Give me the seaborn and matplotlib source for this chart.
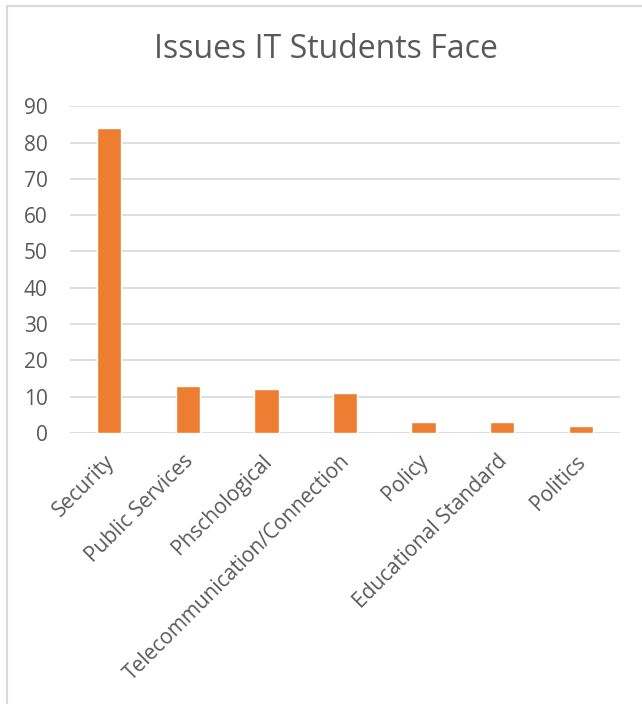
import matplotlib
matplotlib.use("Agg")
import matplotlib.pyplot as plt
import matplotlib.transforms as mtransforms
import seaborn as sns
import pandas as pd

categories = ["Security", "Public Services", "Phschological",
              "Telecommunication/Connection", "Policy",
              "Educational Standard", "Politics"]
counts = [84, 13, 12, 11, 3, 3, 2]
yticks = [0, 10, 20, 30, 40, 50, 60, 70, 80, 90]
title = "Issues IT Students Face"

sns.set_theme(style="white")
plt.rcParams["font.family"] = ["Open Sans", "DejaVu Sans"]

text_color = "#595959"
grid_color = "#D9D9D9"
bar_color = "#ED7D31"

df = pd.DataFrame({"issue": categories, "count": counts})

fig = plt.figure(figsize=(6.42, 7.04), dpi=100)
ax = fig.add_axes([0.109, 0.385, 0.857, 0.464])

sns.barplot(data=df, x="issue", y="count", color=bar_color, width=0.31,
            saturation=1, ax=ax, zorder=3)

ax.set_ylim(0, 90)
ax.set_yticks(yticks)
ax.yaxis.grid(True, color=grid_color, linewidth=1.2, zorder=0)
ax.set_axisbelow(True)
for s in ax.spines.values():
    s.set_visible(False)
ax.set_xlabel("")
ax.set_ylabel("")
ax.tick_params(axis="y", length=0, pad=16, labelsize=15, labelcolor=text_color)
ax.tick_params(axis="x", length=0, pad=13, labelsize=15, labelcolor=text_color)
shift = mtransforms.ScaledTranslation(-4 / 72, 0, fig.dpi_scale_trans)
for lbl in ax.get_xticklabels():
    lbl.set_rotation(45)
    lbl.set_ha("right")
    lbl.set_rotation_mode("anchor")
    lbl.set_transform(lbl.get_transform() + shift)

fig.text(0.508, 0.929, title, ha="center", va="center", fontsize=23,
         color=text_color)

# chart frame
fig.add_artist(plt.Line2D([0.0109, 0.0109], [0.0, 0.991], transform=fig.transFigure,
                          color=grid_color, linewidth=1.5))
fig.add_artist(plt.Line2D([0.0109, 1.0], [0.991, 0.991], transform=fig.transFigure,
                          color=grid_color, linewidth=1.5))

fig.savefig("out.png", dpi=100, facecolor="white")
